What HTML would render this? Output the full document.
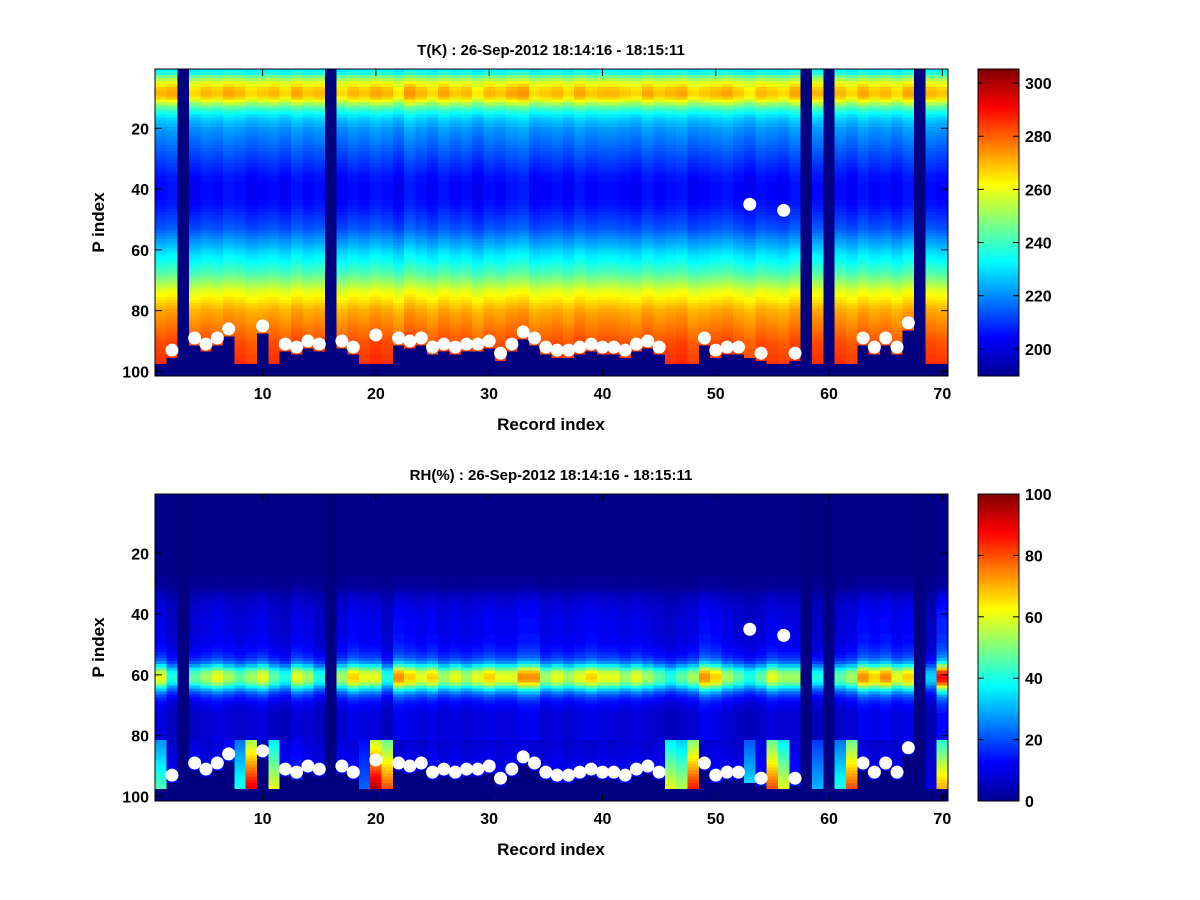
<!DOCTYPE html>
<html><head><meta charset="utf-8">
<style>
body{margin:0;background:#fff;}
svg{display:block;font-family:"Liberation Sans",Arial,sans-serif;}
.tk{font-size:16px;font-weight:bold;fill:#000;}
.ti{font-size:15px;font-weight:bold;fill:#000;}
.lb{font-size:17px;font-weight:bold;fill:#000;}
</style></head>
<body>
<svg id="fig" width="1200" height="900">
<defs>
<linearGradient id="jet" x1="0" y1="1" x2="0" y2="0">
<stop offset="0" stop-color="#00008f"/><stop offset="0.125" stop-color="#0000ff"/>
<stop offset="0.375" stop-color="#00ffff"/><stop offset="0.625" stop-color="#ffff00"/>
<stop offset="0.875" stop-color="#ff0000"/><stop offset="1" stop-color="#800000"/>
</linearGradient>
</defs>
</svg>
<script>
// ---- data ----
const records = Array.from({length:70},(_,i)=>i+1);
const missingCols = [3,16,58,60,68];
const tProfile = [232,236,245,252,258,262,266,268,268,265,258,250,244,238,234,230,227,225,223,221,
220,219,218,217,216,215,214,213,212,211,210,209,208,207,206,205,205,204,204,204,
204,204,204,205,205,206,207,208,209,210,211,212,213,215,217,219,221,223,225,227,
229,231,232,234,236,238,240,242,245,248,251,254,257,259,261,263,265,267,269,271,
272,273,274,275,276,277,278,279,280,281,282,282,283,283,284,284,285,285,285,285,285];
const tColOffset = [1,2,0,-1,1,0,2,1,-1,0,1,-1,2,0,1,0,-1,1,0,2,1,-2,3,1,-1,2,0,1,-2,1,
0,2,3,-1,0,1,-1,2,0,1,1,0,-1,2,0,1,2,-1,0,1,2,0,-2,1,0,-1,2,0,1,0,
1,-1,2,0,1,-1,2,0,1,0];
const rhProfile = [1,1,1,1,1,1,1,1,1,1,1,1,1,1,1,1,1,1,1,1,1,1,1,1,1,1,1,2,2,2,
3,4,6,7,8,9,10,10,11,11,11,12,12,12,12,12,13,13,13,14,15,16,18,20,24,30,40,52,62,66,
67,65,58,46,36,28,22,18,15,13,12,11,10,10,10,10,10,10,10,10,11,12,13,14,15,15,16,16,17,17,
18,18,18,18,18,18,18,18,18,18,0];
const rhColScale = [0.9,0.6,0,0.7,0.8,0.9,0.8,0.7,0.8,0.9,0.7,0.6,0.9,0.8,0.6,0,0.8,1,0.9,0.9,
0.6,1.1,1,0.9,1,0.8,0.9,0.8,0.9,1,0.9,0.9,1.1,1.1,0.8,0.9,0.8,0.9,1,0.9,0.9,0.8,0.9,0.8,0.7,0.6,0.7,0.8,1.1,1,
0.8,0.7,0.6,0.7,0.9,0.8,0.8,0,0.6,0,0.7,0.8,1.1,1,1.1,0.9,1,0,0.5,1.3];
const rhNearSfc = [45,12,0,15,12,14,20,40,90,10,60,15,18,14,12,0,15,14,22,95,80,12,14,12,15,12,14,12,13,14,
12,14,15,13,12,14,12,13,12,14,12,13,14,12,14,60,55,85,12,14,13,12,35,15,80,60,15,0,30,0,40,80,14,12,13,12,14,0,10,70];
const surfaceP = [null,93,null,89,91,89,86,null,null,85,null,91,92,90,91,null,90,92,null,88,null,89,90,89,92,91,92,91,91,90,
94,91,87,89,92,93,93,92,91,92,92,93,91,90,92,null,null,null,89,93,92,92,45,94,null,47,94,null,null,null,null,null,89,92,89,92,84,null,null,null];
const groundRow = [97,95,0,91,93,91,88,97,97,87,97,93,94,92,93,0,92,94,97,97,97,91,92,91,94,93,94,93,93,92,
96,93,89,91,94,95,95,94,93,94,94,95,93,92,94,97,97,97,91,95,94,94,95,96,97,97,96,0,97,0,97,97,91,94,91,94,86,0,97,97];
const xTicks = [10,20,30,40,50,60,70];
const yTicks = [20,40,60,80,100];
const tCbTicks = [200,220,240,260,280,300];
const rhCbTicks = [0,20,40,60,80,100];

// ---- helpers ----
const NS="http://www.w3.org/2000/svg";
const svg=document.getElementById('fig');
function mk(tag,attrs,parent){const e=document.createElementNS(NS,tag);for(const k in attrs)e.setAttribute(k,attrs[k]);(parent||svg).appendChild(e);return e;}
function jet(t){t=Math.max(0,Math.min(1,t));const c=v=>Math.round(255*Math.max(0,Math.min(1,v)));
return `rgb(${c(1.5-Math.abs(4*t-3))},${c(1.5-Math.abs(4*t-2))},${c(1.5-Math.abs(4*t-1))})`;}
const AX={x0:155,x1:948,xmin:0.5,xmax:70.5,ymin:0.5,ymax:101.5};

function panel(top,title,name,valueFn,vmin,vmax,cbTicks){
  const y0=top,y1=top+307;
  const xs=v=>AX.x0+(v-AX.xmin)/(AX.xmax-AX.xmin)*(AX.x1-AX.x0);
  const ys=v=>y0+(v-AX.ymin)/(AX.ymax-AX.ymin)*(y1-y0);
  const g=mk('g',{'shape-rendering':'crispEdges'});
  
  
  records.forEach((r,ci)=>{
    for(let p=1;p<=101;p++){
      const v=valueFn(ci,p);
      const rc=mk('rect',{x:xs(r-0.5),y:ys(p-0.5),width:xs(r+0.5)-xs(r-0.5)+0.6,height:ys(p+0.5)-ys(p-0.5)+0.6,fill:jet((v-vmin)/(vmax-vmin))},g);
      
      
    }
  });
  surfaceP.forEach((s,ci)=>{ if(s!==null){
    const c=mk('circle',{cx:xs(records[ci]),cy:ys(s),r:6.5,fill:'#fff'});
    
    
  }});
  const box=mk('rect',{x:AX.x0,y:y0,width:AX.x1-AX.x0,height:y1-y0,fill:'none',stroke:'#000','stroke-width':1});
  
  
  xTicks.forEach(t=>{const x=xs(t);
    mk('line',{x1:x,y1:y1,x2:x,y2:y1-7,stroke:'#000'});mk('line',{x1:x,y1:y0,x2:x,y2:y0+7,stroke:'#000'});
    const tx=mk('text',{x:x,y:y1+23,'text-anchor':'middle',class:'tk'});tx.textContent=t;
    
    });
  yTicks.forEach(t=>{const y=ys(t);
    mk('line',{x1:AX.x0,y1:y,x2:AX.x0+7,y2:y,stroke:'#000'});mk('line',{x1:AX.x1,y1:y,x2:AX.x1-7,y2:y,stroke:'#000'});
    const tx=mk('text',{x:AX.x0-6,y:y+6,'text-anchor':'end',class:'tk'});tx.textContent=t;
    
    });
  const tt=mk('text',{x:551,y:y0-14,'text-anchor':'middle',class:'ti'});tt.textContent=title;
  
  
  const xl=mk('text',{x:551,y:y1+54,'text-anchor':'middle',class:'lb'});xl.textContent='Record index';
  
  
  const yl=mk('text',{x:0,y:0,'text-anchor':'middle',class:'lb',transform:`translate(104,${(y0+y1)/2}) rotate(-90)`});yl.textContent='P index';
  
  
  const cb=mk('rect',{x:978,y:y0,width:41,height:y1-y0,fill:'url(#jet)',stroke:'#000'});
  
  
  cbTicks.forEach(t=>{const y=y1-(t-vmin)/(vmax-vmin)*(y1-y0);
    mk('line',{x1:978,y1:y,x2:984,y2:y,stroke:'#000'});mk('line',{x1:1019,y1:y,x2:1013,y2:y,stroke:'#000'});
    const tx=mk('text',{x:1025,y:y+6,class:'tk'});tx.textContent=t;
    
    });
}

function tVal(ci,p){
  const r=records[ci];
  if(missingCols.includes(r)||p>groundRow[ci]||p>97)return 180;
  let v=tProfile[p-1]+tColOffset[ci];
  if(p>=6&&p<=12)v+=tColOffset[ci];
  return v;
}
function rhVal(ci,p){
  const r=records[ci];
  if(missingCols.includes(r)||p>groundRow[ci]||p>97)return 0;
  if(p>=82&&p<=97)return rhNearSfc[ci]*(0.6+0.4*(p-82)/15);
  return rhProfile[p-1]*rhColScale[ci];
}
panel(69,'T(K) : 26-Sep-2012 18:14:16 - 18:15:11','temperature',tVal,189.8,305.3,tCbTicks);
panel(494,'RH(%) : 26-Sep-2012 18:14:16 - 18:15:11','humidity',rhVal,0,100,rhCbTicks);
</script>
</body></html>
